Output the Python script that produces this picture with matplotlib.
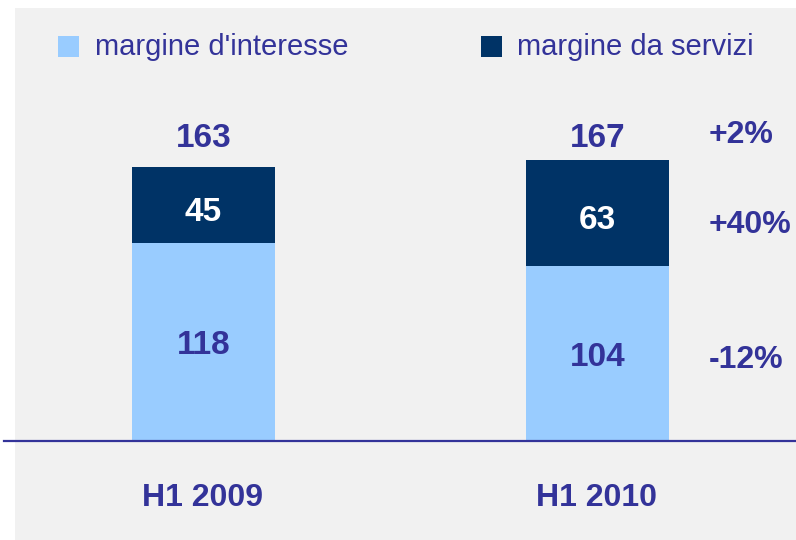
import matplotlib
matplotlib.use("Agg")
import matplotlib.pyplot as plt
from matplotlib.patches import Rectangle
from matplotlib.lines import Line2D
from matplotlib.transforms import offset_copy

categories = ["H1 2009", "H1 2010"]
interest = [118, 104]
services = [45, 63]
totals = [163, 167]
growth = ["+2%", "+40%", "-12%"]
series_names = ["margine d'interesse", "margine da servizi"]

C_LIGHT = "#99CCFF"
C_DARK = "#003366"
C_TEXT = "#333399"
FONT = "Liberation Sans"

W, H = 796, 540
fig = plt.figure(figsize=(W / 100, H / 100), dpi=100)
fig.patch.set_facecolor("white")
fig.patches.append(Rectangle((15 / W, 0), 1 - 15 / W, 1 - 8 / H, transform=fig.transFigure,
                             facecolor="#F1F1F1", edgecolor="none", zorder=-5))

base_px = 441
ppu = 1.68
xppu = 394.0
ax = fig.add_axes([0, (H - base_px) / H, 1, (base_px - 8) / H], zorder=2)
ax.patch.set_alpha(0)
ax.set_ylim(0, (base_px - 8) / ppu)
ax.set_xlim(-203.5 / xppu, (W - 203.5) / xppu)
ax.axis("off")

x = list(range(len(categories)))
bw = 143 / xppu
ax.bar(x, interest, width=bw, color=C_LIGHT, zorder=2)
ax.bar(x, services, width=bw, bottom=interest, color=C_DARK, zorder=2)


def label(xv, yv, s, color=C_TEXT, ha="center", fs=24):
    tr = offset_copy(ax.transData, fig=fig, y=-0.716 * fs / 2, units="points")
    ax.text(xv, yv, s, ha=ha, va="baseline", color=color, fontsize=fs,
            fontweight="bold", family=FONT, transform=tr, zorder=4)


for i in x:
    label(i, interest[i] / 2, str(interest[i]))
    label(i, interest[i] + services[i] / 2 - 2.5, str(services[i]), color="white")
    label(i, max(totals) + 15, str(totals[i]))

gx = (709 - 203.5) / xppu
gys = [max(totals) + 17, interest[1] + services[1] / 2 - 5, interest[1] / 2 - 1.5]
for g, gy in zip(growth, gys):
    label(gx, gy, g, ha="left", fs=23)

# baseline
fig.lines.append(Line2D([4 / W, 1], [(H - base_px) / H] * 2, transform=fig.transFigure,
                        color=C_TEXT, lw=1.6, zorder=5))

# category labels
for i, c in enumerate(categories):
    xf = (202.5 + i * xppu) / W
    fig.text(xf, 1 - 506 / H, c, ha="center", va="baseline", color=C_TEXT,
             fontsize=23, fontweight="bold", family=FONT)

# legend
for (sx, tx, col, name) in [(58, 95, C_LIGHT, series_names[0]), (481, 517, C_DARK, series_names[1])]:
    fig.patches.append(Rectangle((sx / W, 1 - 57 / H), 21 / W, 21 / H, transform=fig.transFigure,
                                 facecolor=col, edgecolor="none", zorder=3))
    fig.text(tx / W, 1 - 55 / H, name, ha="left", va="baseline", color=C_TEXT,
             fontsize=21, family=FONT)

fig.savefig("out.png", dpi=100)
